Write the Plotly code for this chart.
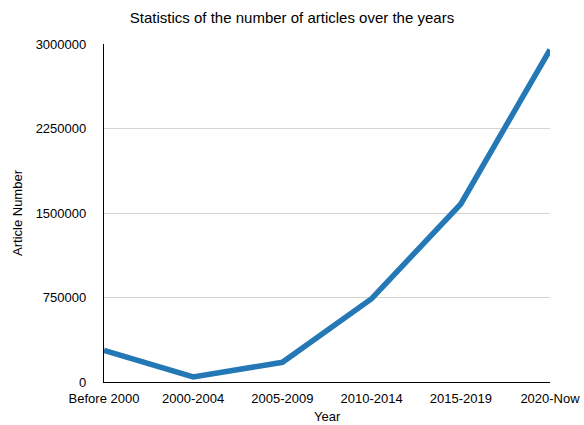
import plotly.graph_objects as go

categories = ["Before 2000", "2000-2004", "2005-2009", "2010-2014", "2015-2019", "2020-Now"]
articles = [280000, 45000, 175000, 740000, 1580000, 2950000]
y_ticks = [0, 750000, 1500000, 2250000, 3000000]
y_tick_labels = ["0", "750000", "1500000", "2250000", "3000000"]

fig = go.Figure(go.Scatter(
    x=categories, y=articles, mode="lines",
    line=dict(color="#2378b5", width=5.5),
))

font = "Liberation Sans, Arial, Helvetica, sans-serif"
fig.update_layout(
    width=584, height=425,
    margin=dict(l=104, r=34, t=44, b=43),
    paper_bgcolor="white", plot_bgcolor="white",
    showlegend=False,
    font=dict(family=font, size=13, color="black"),
    title=dict(text="Statistics of the number of articles over the years",
               x=0.5, xanchor="center", y=0.958, yanchor="middle",
               font=dict(size=15, color="black")),
    xaxis=dict(
        type="category", range=[0, 5], showgrid=False, automargin=False,
        showline=True, linecolor="black", linewidth=1.3,
        ticks="outside", ticklen=4, tickcolor="rgba(0,0,0,0)", tickfont=dict(size=13),
    ),
    yaxis=dict(
        range=[0, 3000000], tickvals=y_ticks, ticktext=y_tick_labels,
        showgrid=True, gridcolor="#d4d4d4", gridwidth=1, automargin=False,
        showline=True, linecolor="black", linewidth=1.3,
        zeroline=False, ticks="", ticklabelstandoff=14,
        tickfont=dict(size=13),
        title=dict(text="Article Number", standoff=10, font=dict(size=13)),
    ),
    annotations=[dict(
        text="Year", xref="x domain", yref="y domain", x=0.5, y=0,
        xanchor="center", yanchor="middle", yshift=-34, showarrow=False,
        font=dict(size=13, color="black"),
    )],
)

fig.write_html("out.html")
